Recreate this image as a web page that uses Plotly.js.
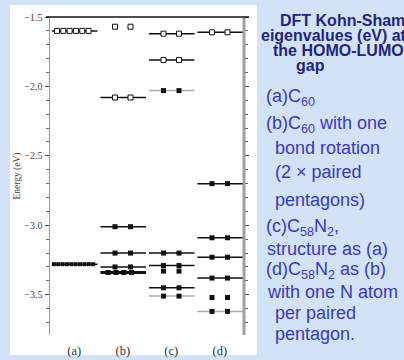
<!DOCTYPE html>
<html>
<head>
<meta charset="utf-8">
<script src="https://cdn.plot.ly/plotly-3.0.1.min.js"></script>
<style>
  html, body { margin: 0; padding: 0; width: 404px; height: 360px; overflow: hidden;
    background: #d3e3f7; }
  #chart { width: 404px; height: 360px; }
</style>
</head>
<body>
<div id="chart"></div>
<script>
// ---- data ----
const columns = ['(a)', '(b)', '(c)', '(d)'];

// (a) C60
const a_energy = [-1.60, -3.28];
const a_states = [6, 10];
const a_occupied = [0, 1];
const a_line = ['black', 'black'];

// (b) C60 with one bond rotation
const b_energy = [-1.57, -2.08, -3.01, -3.20, -3.30, -3.34];
const b_states = [2, 2, 2, 2, 2, 4];
const b_occupied = [0, 0, 1, 1, 1, 1];
const b_line = ['none', 'black', 'black', 'black', 'black', 'thick'];

// (c) C58N2, structure as (a)
const c_energy = [-1.62, -1.81, -2.03, -3.20, -3.29, -3.33, -3.45, -3.51];
const c_states = [2, 2, 2, 2, 2, 2, 2, 2];
const c_occupied = [0, 0, 1, 1, 1, 1, 1, 1];
const c_line = ['black', 'black', 'gray', 'black', 'black', 'none', 'black', 'gray'];

// (d) C58N2 as (b)
const d_energy = [-1.61, -2.70, -3.09, -3.23, -3.38, -3.52, -3.62];
const d_states = [2, 2, 2, 2, 2, 2, 2];
const d_occupied = [0, 1, 1, 1, 1, 1, 1];
const d_line = ['black', 'black', 'black', 'black', 'black', 'none', 'gray'];

const yTitle = 'Energy (eV)';
const titleLines = ['DFT Kohn-Sham', 'eigenvalues (eV) at', 'the HOMO-LUMO', 'gap'];
const captionLines = [
  '(a)C<sub>60</sub>',
  '(b)C<sub>60</sub> with one',
  'bond rotation',
  '(2 × paired',
  'pentagons)',
  '(c)C<sub>58</sub>N<sub>2</sub>,',
  'structure as (a)',
  '(d)C<sub>58</sub>N<sub>2</sub> as (b)',
  'with one N atom',
  'per paired',
  'pentagon.'
];

// ---- build traces ----
const groups = [
  [a_energy, a_states, a_occupied, a_line],
  [b_energy, b_states, b_occupied, b_line],
  [c_energy, c_states, c_occupied, c_line],
  [d_energy, d_states, d_occupied, d_line]
];
const spacing = {2: 0.32, 4: 0.16, 6: 0.13, 10: 0.09};
const centre = {2: 0.5, 4: 0.44, 6: 0.47, 10: 0.485};

const lineSets = {black: {x: [], y: []}, gray: {x: [], y: []}, thick: {x: [], y: []}};
const filled = {x: [], y: []}, open = {x: [], y: []}, smallFilled = {x: [], y: []};

groups.forEach((g, i) => {
  const [E, N, occ, kind] = g;
  E.forEach((e, k) => {
    if (kind[k] !== 'none') {
      const s = lineSets[kind[k]];
      s.x.push(i + 0.04, i + 0.98, null);
      s.y.push(e, e, null);
    }
    const n = N[k];
    const sp = spacing[n], c = centre[n];
    for (let m = 0; m < n; m++) {
      const x = i + c + (m - (n - 1) / 2) * sp;
      const tgt = occ[k] ? (n >= 10 ? smallFilled : filled) : open;
      tgt.x.push(x); tgt.y.push(e);
    }
  });
});

const traces = [
  {x: lineSets.gray.x, y: lineSets.gray.y, mode: 'lines', line: {color: '#ababab', width: 1.5}, hoverinfo: 'skip'},
  {x: lineSets.black.x, y: lineSets.black.y, mode: 'lines', line: {color: '#111', width: 1.5}, hoverinfo: 'skip'},
  {x: lineSets.thick.x, y: lineSets.thick.y, mode: 'lines', line: {color: '#111', width: 3}, hoverinfo: 'skip'},
  {x: filled.x, y: filled.y, mode: 'markers', marker: {symbol: 'square', size: 5, color: '#111'}},
  {x: smallFilled.x, y: smallFilled.y, mode: 'markers', marker: {symbol: 'square', size: 4, color: '#111'}},
  {x: open.x, y: open.y, mode: 'markers', marker: {symbol: 'square', size: 5, color: '#fff', line: {color: '#111', width: 1}}},
  {x: [], y: [], yaxis: 'y2', mode: 'markers'}
];

// ---- layout ----
const L = 50, R = 244, T = 17, B = 335;
const W = R - L, H = B - T;
const px = (x) => (x - L) / W;
const py = (y) => (B - y) / H;

const annotations = [];
const titleX = [279, 260, 272, 295];
const titleY = [20, 35, 51, 66];
titleLines.forEach((t, k) => annotations.push({
  text: '<b>' + t + '</b>', xref: 'paper', yref: 'paper', x: px(titleX[k]), y: py(titleY[k]),
  xanchor: 'left', yanchor: 'middle', showarrow: false, borderpad: 0,
  font: {family: 'Liberation Sans, Arial, sans-serif', size: 16, color: '#24247e'}
}));
const capX = [265, 265, 274, 274, 274, 265, 266, 265, 266, 274, 274];
const capY = [97, 124.5, 147.5, 172, 200, 227, 248.5, 270.5, 292, 313, 334];
captionLines.forEach((t, k) => annotations.push({
  text: t, xref: 'paper', yref: 'paper', x: px(capX[k]), y: py(capY[k]),
  xanchor: 'left', yanchor: 'middle', showarrow: false, borderpad: 0,
  font: {family: 'Liberation Sans, Arial, sans-serif', size: 18, color: '#3838c4'}
}));

const serif = 'Liberation Serif, Times New Roman, serif';
const layout = {
  width: 404, height: 360,
  margin: {l: L, r: 404 - R, t: T, b: 360 - B},
  paper_bgcolor: 'rgba(0,0,0,0)',
  plot_bgcolor: '#fff',
  showlegend: false,
  hovermode: false,
  xaxis: {
    range: [0, 4], tickvals: [0.5, 1.5, 2.5, 3.5], ticktext: columns,
    ticks: '', showline: false, showgrid: false, zeroline: false,
    ticklabelstandoff: 6,
    tickfont: {family: serif, size: 12.5, color: '#333'}
  },
  yaxis: {
    range: [-3.79, -1.5], dtick: 0.5, tick0: 0, tickformat: '.1f',
    ticks: 'outside', ticklen: 4, tickwidth: 1, tickcolor: '#444',
    showline: true, linecolor: '#9a9a9a', linewidth: 1.5,
    showgrid: false, zeroline: false,
    minor: {dtick: 0.1, ticks: 'outside', ticklen: 2.5, tickcolor: '#666', showgrid: false},
    tickfont: {family: serif, size: 10, color: '#444'},
    title: {text: yTitle, standoff: 2, font: {family: serif, size: 9.5, color: '#444'}}
  },
  yaxis2: {
    overlaying: 'y', side: 'right', range: [-3.79, -1.5], dtick: 0.5, tick0: 0,
    ticks: 'outside', ticklen: 4, tickcolor: '#444', showticklabels: false,
    showline: false, showgrid: false, zeroline: false,
    minor: {dtick: 0.1, ticks: 'outside', ticklen: 2.5, tickcolor: '#666', showgrid: false}
  },
  shapes: [
    {type: 'rect', xref: 'paper', yref: 'paper', layer: 'below',
     x0: px(10), x1: px(257), y0: py(355), y1: py(5),
     fillcolor: '#fff', line: {width: 0}},
    {type: 'line', xref: 'paper', yref: 'paper', x0: 1, x1: 1, y0: 0, y1: 1,
     line: {color: '#a0a0a0', width: 3}},
    {type: 'line', xref: 'paper', yref: 'paper', x0: px(46), x1: px(249), y0: 1, y1: 1,
     line: {color: '#111', width: 1.5}}
  ],
  annotations: annotations
};

Plotly.newPlot('chart', traces, layout, {staticPlot: true, displayModeBar: false});
</script>
</body>
</html>
